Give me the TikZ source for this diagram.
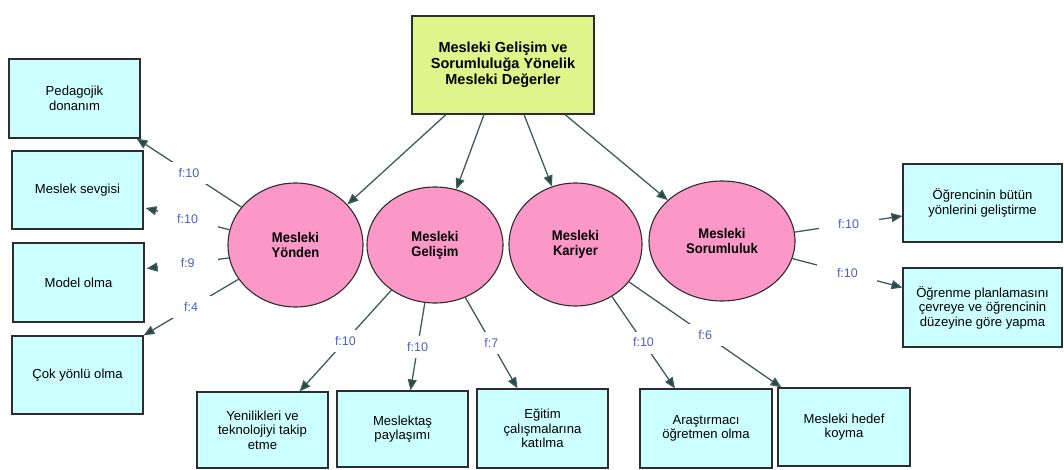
\documentclass[tikz,border=0pt]{standalone}
\usepackage{fontspec}
\setmainfont{Liberation Sans}
\newfontfamily\circlefont[FakeStretch=0.93]{Liberation Sans}
\usetikzlibrary{shapes.geometric,arrows.meta}

\definecolor{topfill}{RGB}{222,245,140}
\definecolor{boxfill}{RGB}{204,255,255}
\definecolor{pinkfill}{RGB}{252,152,200}
\definecolor{edgegray}{RGB}{45,45,45}
\definecolor{linkcol}{RGB}{62,92,92}
\definecolor{tipcol}{RGB}{40,72,72}
\definecolor{labelblue}{RGB}{72,98,196}

\begin{document}
\begin{tikzpicture}[x=1pt,y=-1pt,
  item/.style={draw=edgegray, line width=1.1pt, fill=boxfill, rectangle, inner sep=0pt,
    align=center, font=\fontsize{13.1}{14.5}\selectfont},
  headbox/.style={draw=edgegray, line width=1.1pt, fill=topfill, rectangle, inner sep=0pt,
    align=center, font=\fontsize{14.5}{16}\selectfont\bfseries},
  factor/.style={ellipse, draw=edgegray, line width=1.1pt, fill=pinkfill, inner sep=0pt,
    align=center, font=\circlefont\fontsize{14}{15}\selectfont\bfseries},
  link/.style={draw=linkcol, line width=1.3pt, -{Triangle[length=11pt,width=9pt,fill=tipcol]}},
  freq/.style={fill=white, minimum width=60pt, minimum height=22pt, inner sep=0pt,
    text=labelblue, font=\fontsize{12.5}{14}\selectfont}
]
\useasboundingbox (0,0) rectangle (1064,470);

% main concept
\node[headbox, minimum width=182pt, minimum height=98pt] (top) at (503,65)
  {Mesleki Gelişim ve\\Sorumluluğa Yönelik\\Mesleki Değerler};

% the four dimensions
\node[factor, minimum width=135pt, minimum height=124pt] (yon) at (295.5,245) {Mesleki\\Yönden};
\node[factor, minimum width=136pt, minimum height=116pt] (gel) at (435,245) {Mesleki\\Gelişim};
\node[factor, minimum width=133pt, minimum height=123pt] (kar) at (575.5,244.5) {Mesleki\\Kariyer};
\node[factor, minimum width=146pt, minimum height=120pt] (sor) at (722,241) {Mesleki\\Sorumluluk};

% left column
\node[item, minimum width=131pt, minimum height=79pt] (L1) at (74.5,98.5) {Pedagojik\\donanım};
\node[item, minimum width=131pt, minimum height=78pt] (L2) at (77.5,190) {Meslek sevgisi};
\node[item, minimum width=131pt, minimum height=79pt] (L3) at (78.5,282.5) {Model olma};
\node[item, minimum width=131pt, minimum height=78pt] (L4) at (77.5,375) {Çok yönlü olma};

% bottom row
\node[item, minimum width=131pt, minimum height=76pt] (B1) at (262.5,430) {Yenilikleri ve\\teknolojiyi takip\\etme};
\node[item, minimum width=131pt, minimum height=76pt] (B2) at (402.5,429) {Meslektaş\\paylaşımı};
\node[item, minimum width=131pt, minimum height=79pt] (B3) at (542.5,428.5) {Eğitim\\çalışmalarına\\katılma};
\node[item, minimum width=132pt, minimum height=79pt] (B4) at (706,428.5) {Araştırmacı\\öğretmen olma};
\node[item, minimum width=132pt, minimum height=78pt] (B5) at (844,427) {Mesleki hedef\\koyma};

% right column
\node[item, minimum width=159pt, minimum height=78pt] (R1) at (982.5,203) {Öğrencinin bütün\\yönlerini geliştirme};
\node[item, minimum width=159pt, minimum height=79pt] (R2) at (982.5,307.5) {Öğrenme planlamasını\\çevreye ve öğrencinin\\düzeyine göre yapma};

% main concept to dimensions
\draw[link] ([xshift=-57pt]top.south) -- (yon.38);
\draw[link] ([xshift=-19pt]top.south) -- (gel.69);
\draw[link] ([xshift=21pt]top.south) -- (kar.112.5);
\draw[link] ([xshift=62pt]top.south) -- (sor.143);

% Mesleki Yönden
\draw[link] (yon.145.6) -- node[freq] {f:10} ([xshift=-4pt]L1.south east);
\draw[link] (yon.167.3) -- node[freq] {f:10} ([shift={(2pt,-18pt)}]L2.east);
\draw[link] (yon.191.2) -- node[freq] {f:9} ([shift={(2pt,14pt)}]L3.east);
\draw[link] (yon.211.3) -- node[freq] {f:4} (L4.north east);

% Mesleki Gelişim
\draw[link] (gel.226.8) -- node[freq] {f:10} ([xshift=37pt]B1.north);
\draw[link] (gel.260.5) -- node[freq] {f:10} ([xshift=8pt]B2.north);
\draw[link] (gel.300.2) -- node[freq] {f:7} ([xshift=-25pt]B3.north);

% Mesleki Kariyer
\draw[link] (kar.305) -- node[freq] {f:10} ([xshift=-31pt]B4.north);
\draw[link] (kar.325.7) -- node[freq] {f:6} ([xshift=4pt]B5.north west);

% Mesleki Sorumluluk
\draw[link] (sor.7.8) -- node[freq] {f:10} ([yshift=-13pt]R1.west);
\draw[link] (sor.346.9) -- node[freq] {f:10} ([yshift=20pt]R2.west);
\end{tikzpicture}
\end{document}
